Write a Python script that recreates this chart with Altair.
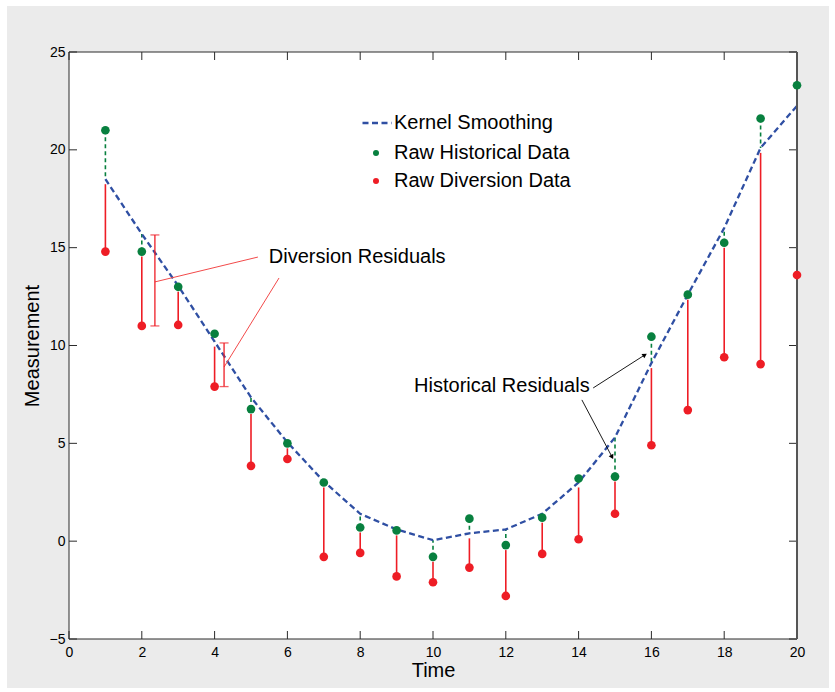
import math
import altair as alt
import pandas as pd

# ---------------- data ----------------
time = list(range(1, 21))
historical = [21.0, 14.8, 13.0, 10.6, 6.75, 5.0, 3.0, 0.7, 0.55, -0.8,
              1.15, -0.2, 1.2, 3.2, 3.3, 10.45, 12.6, 15.25, 21.6, 23.3]
diversion = [14.8, 11.0, 11.05, 7.9, 3.85, 4.2, -0.8, -0.6, -1.8, -2.1,
             -1.35, -2.8, -0.65, 0.1, 1.4, 4.9, 6.7, 9.4, 9.05, 13.6]
smooth = [18.5, 15.7, 13.05, 10.2, 7.35, 5.05, 3.05, 1.4, 0.6, 0.05,
          0.4, 0.6, 1.4, 3.0, 5.3, 9.1, 12.6, 16.0, 20.1, 22.25]

x_ticks = list(range(0, 21, 2))
y_ticks = list(range(-5, 26, 5))

series_names = ["Kernel Smoothing", "Raw Historical Data", "Raw Diversion Data"]

# annotations (data coordinates)
ann_text = ["Diversion Residuals", "Historical Residuals"]
ann_text_x = [5.49, 9.48]
ann_text_y = [14.52, 7.93]

leader_x = [5.19, 5.77]
leader_y = [14.52, 13.45]
leader_x2 = [2.36, 4.26]
leader_y2 = [13.25, 8.9]

ibar_x = [2.36, 4.26]
ibar_lo = [11.0, 7.9]
ibar_hi = [15.65, 10.13]

arrow_x = [14.40, 14.09]
arrow_y = [7.83, 7.22]
arrow_x2 = [15.82, 14.92]
arrow_y2 = [9.52, 4.30]

# ---------------- styling ----------------
W, H = 728, 587
FONT = "Liberation Sans"
BLUE = "#2f4fa3"
GREEN = "#08803f"
RED = "#ee1d25"
FRAME = "#2b2b2b"

xs = alt.Scale(domain=[0, 20], nice=False, zero=False)
ys = alt.Scale(domain=[-5, 25], nice=False, zero=False)

df = pd.DataFrame({"t": time, "hist": historical, "div": diversion, "smooth": smooth})
df["top"] = df[["hist", "smooth"]].min(axis=1)
df["s"] = series_names[0]

pts = pd.concat([
    pd.DataFrame({"t": time, "v": historical, "series": series_names[1]}),
    pd.DataFrame({"t": time, "v": diversion, "series": series_names[2]}),
])

one = pd.DataFrame({"a": [0]})
xt = pd.DataFrame({"x": x_ticks})
yt = pd.DataFrame({"y": y_ticks})

x_axis = alt.Axis(values=x_ticks, title="Time", labelFontSize=14, titleFontSize=20,
                  titleFontWeight="normal", ticks=False, domain=False, grid=False,
                  labelPadding=6, titlePadding=1, labelColor="black", titleColor="black",
                  labelFont=FONT, titleFont=FONT, labelFlush=False, zindex=2)
y_axis = alt.Axis(values=y_ticks, title="Measurement", labelFontSize=14, titleFontSize=20,
                  titleFontWeight="normal", ticks=False, domain=False, grid=False,
                  labelPadding=4, titlePadding=7, labelColor="black", titleColor="black",
                  labelFont=FONT, titleFont=FONT, labelFlush=False, zindex=2)

# background panel, white plot area and frame
panel = alt.Chart(one).mark_rect(fill="#ebebeb", stroke=None).encode(
    x=alt.value(-62), x2=alt.value(W + 32), y=alt.value(-46), y2=alt.value(H + 49))
box = alt.Chart(one).mark_rect(fill="white", stroke=None).encode(
    x=alt.value(0), x2=alt.value(W), y=alt.value(0), y2=alt.value(H))
frame = alt.Chart(one).mark_rect(fill=None, stroke=FRAME, strokeWidth=1).encode(
    x=alt.value(0), x2=alt.value(W), y=alt.value(0), y2=alt.value(H))
right_edge = alt.Chart(one).mark_rule(color="#555555", strokeWidth=2).encode(
    x=alt.value(W), y=alt.value(0), y2=alt.value(H))

tick_style = dict(color=FRAME, strokeWidth=1)
tb = alt.Chart(xt).mark_rule(**tick_style).encode(
    x=alt.X("x:Q", scale=xs, axis=x_axis), y=alt.value(H), y2=alt.value(H - 8))
tt = alt.Chart(xt).mark_rule(**tick_style).encode(
    x=alt.X("x:Q", scale=xs), y=alt.value(0), y2=alt.value(8))
tl = alt.Chart(yt).mark_rule(**tick_style).encode(
    y=alt.Y("y:Q", scale=ys, axis=y_axis), x=alt.value(0), x2=alt.value(8))
tr = alt.Chart(yt).mark_rule(**tick_style).encode(
    y=alt.Y("y:Q", scale=ys), x=alt.value(W), x2=alt.value(W - 8))

red_res = alt.Chart(df).mark_rule(color=RED, strokeWidth=1.6, y2Offset=5).encode(
    x=alt.X("t:Q", scale=xs), y=alt.Y("div:Q", scale=ys), y2="top:Q")
green_res = alt.Chart(df).mark_rule(color=GREEN, strokeWidth=1.6, strokeDash=[4, 3]).encode(
    x=alt.X("t:Q", scale=xs), y=alt.Y("hist:Q", scale=ys), y2="smooth:Q")

line = alt.Chart(df).mark_line(strokeWidth=2.3, color=BLUE).encode(
    x=alt.X("t:Q", scale=xs),
    y=alt.Y("smooth:Q", scale=ys),
    strokeDash=alt.StrokeDash(
        "s:N",
        scale=alt.Scale(domain=[series_names[0]], range=[[6, 3.5]]),
        legend=alt.Legend(orient="none", legendX=292, legendY=55, title=None,
                          symbolType="stroke", symbolSize=841, symbolStrokeColor=BLUE,
                          symbolStrokeWidth=2.3, labelFontSize=20, labelFont=FONT,
                          labelColor="black", labelOffset=1, labelLimit=400, padding=0)),
)

points = alt.Chart(pts).mark_circle(size=75, opacity=1).encode(
    x=alt.X("t:Q", scale=xs),
    y=alt.Y("v:Q", scale=ys),
    color=alt.Color(
        "series:N",
        scale=alt.Scale(domain=series_names[1:], range=[GREEN, RED]),
        legend=alt.Legend(orient="none", legendX=297, legendY=91, title=None,
                          symbolType="circle", symbolSize=36, symbolOpacity=1,
                          labelFontSize=20, labelFont=FONT, labelColor="black",
                          labelOffset=8, labelLimit=400, rowPadding=8, padding=0)),
)

ann = pd.DataFrame({"label": ann_text, "x": ann_text_x, "y": ann_text_y})
texts = alt.Chart(ann).mark_text(align="left", baseline="middle", fontSize=20,
                                 font=FONT, color="black").encode(
    x=alt.X("x:Q", scale=xs), y=alt.Y("y:Q", scale=ys), text="label:N")

lead = pd.DataFrame({"x": leader_x, "y": leader_y, "x2": leader_x2, "y2": leader_y2})
leaders = alt.Chart(lead).mark_rule(color="#f24a4a", strokeWidth=1).encode(
    x=alt.X("x:Q", scale=xs), y=alt.Y("y:Q", scale=ys), x2="x2:Q", y2="y2:Q")

ib = pd.DataFrame({"x": ibar_x, "lo": ibar_lo, "hi": ibar_hi})
ibars = alt.Chart(ib).mark_rule(color=RED, strokeWidth=1.3).encode(
    x=alt.X("x:Q", scale=xs), y=alt.Y("lo:Q", scale=ys), y2="hi:Q")
ib_long = pd.concat([pd.DataFrame({"x": ibar_x, "y": ibar_lo}),
                     pd.DataFrame({"x": ibar_x, "y": ibar_hi})])
caps = alt.Chart(ib_long).mark_tick(color=RED, orient="horizontal", size=9, thickness=1.3).encode(
    x=alt.X("x:Q", scale=xs), y=alt.Y("y:Q", scale=ys))

arr = pd.DataFrame({"x": arrow_x, "y": arrow_y, "x2": arrow_x2, "y2": arrow_y2})
arr["angle"] = [
    math.degrees(math.atan2((b - a) * W / 20, (d - c) * H / 30))
    for a, b, c, d in zip(arrow_x, arrow_x2, arrow_y, arrow_y2)
]
arr["angle"] = arr["angle"] % 360
arrows = alt.Chart(arr).mark_rule(color="black", strokeWidth=0.9).encode(
    x=alt.X("x:Q", scale=xs), y=alt.Y("y:Q", scale=ys), x2="x2:Q", y2="y2:Q")
heads = alt.Chart(arr).mark_point(shape="triangle-up", filled=True, size=28,
                                  color="black", opacity=1).encode(
    x=alt.X("x2:Q", scale=xs), y=alt.Y("y2:Q", scale=ys),
    angle=alt.Angle("angle:Q", scale=None))

chart = alt.layer(
    panel, box, tb, tt, tl, tr, red_res, green_res, line, frame, right_edge, points,
    leaders, ibars, caps, texts, arrows, heads,
).properties(
    width=W, height=H,
    autosize=alt.AutoSizeParams(type="none"),
    padding={"left": 69, "top": 52, "right": 38, "bottom": 53},
    background="white",
).configure_view(stroke=None).resolve_scale(strokeDash="independent", color="independent")

chart.save("out.html", embed_options={"renderer": "svg", "actions": False})
